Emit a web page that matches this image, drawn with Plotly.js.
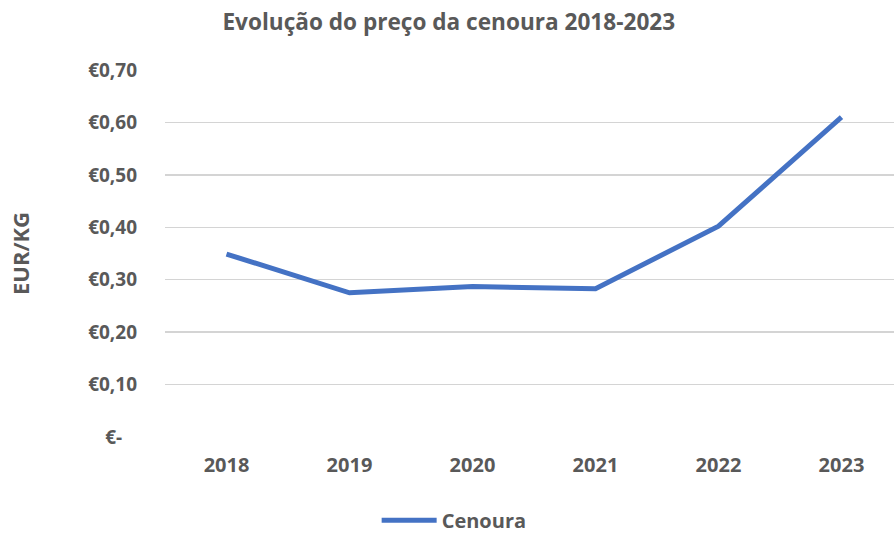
<!DOCTYPE html>
<html>
<head>
<meta charset="utf-8">
<script src="https://cdn.plot.ly/plotly-3.0.1.min.js"></script>
<style>
  html, body { margin: 0; padding: 0; background: #fff; }
  #chart { width: 894px; height: 533px; }
</style>
</head>
<body>
<div id="chart"></div>
<script>
var years = ['2018', '2019', '2020', '2021', '2022', '2023'];
var prices = [0.349, 0.275, 0.287, 0.283, 0.402, 0.610];
var tickVals = [0, 0.1, 0.2, 0.3, 0.4, 0.5, 0.6, 0.7];
var tickText = ['€-\u00a0\u00a0\u00a0', '€0,10', '€0,20', '€0,30', '€0,40', '€0,50', '€0,60', '€0,70'];

var grey = '#595959';
var fnt = 'Open Sans, Noto Sans, sans-serif';

var cenoura = {
  name: 'Cenoura',
  x: years,
  y: prices,
  type: 'scatter',
  mode: 'lines',
  line: { color: '#4472C4', width: 5 }
};

var layout = {
  width: 894,
  height: 533,
  margin: { l: 165, r: 0, t: 70, b: 96 },
  paper_bgcolor: '#fff',
  plot_bgcolor: '#fff',
  font: { family: fnt, color: grey, size: 19 },
  title: {
    text: '<b>Evolução do preço da cenoura 2018-2023</b>',
    font: { family: fnt, size: 22.6, color: grey },
    xref: 'container', x: 0.502, xanchor: 'center',
    yref: 'container', y: 0.958, yanchor: 'middle'
  },
  xaxis: {
    type: 'category',
    range: [-0.5, 5.427],
    showgrid: false,
    zeroline: false,
    showline: false,
    ticks: '',
    ticklabelstandoff: 14,
    tickfont: { family: fnt, size: 20, color: grey, weight: 'bold' }
  },
  yaxis: {
    range: [0, 0.7],
    tickvals: tickVals,
    ticktext: tickText,
    showgrid: true,
    gridcolor: '#d4d4d4',
    gridwidth: 1.4,
    zeroline: false,
    showline: false,
    ticks: '',
    ticklabelstandoff: 27,
    tickfont: { family: fnt, size: 19, color: grey, weight: 'bold' },
    title: {
      text: '<b>EUR/KG</b>',
      font: { family: fnt, size: 22, color: grey },
      standoff: 52
    }
  },
  showlegend: true,
  legend: {
    orientation: 'h',
    xref: 'container', x: 0.508, xanchor: 'center',
    yref: 'container', y: 0.024, yanchor: 'middle',
    font: { family: fnt, size: 20, color: grey, weight: 'bold' },
    itemwidth: 55
  }
};

Plotly.newPlot('chart', [cenoura], layout, { displayModeBar: false, staticPlot: true });
</script>
</body>
</html>
